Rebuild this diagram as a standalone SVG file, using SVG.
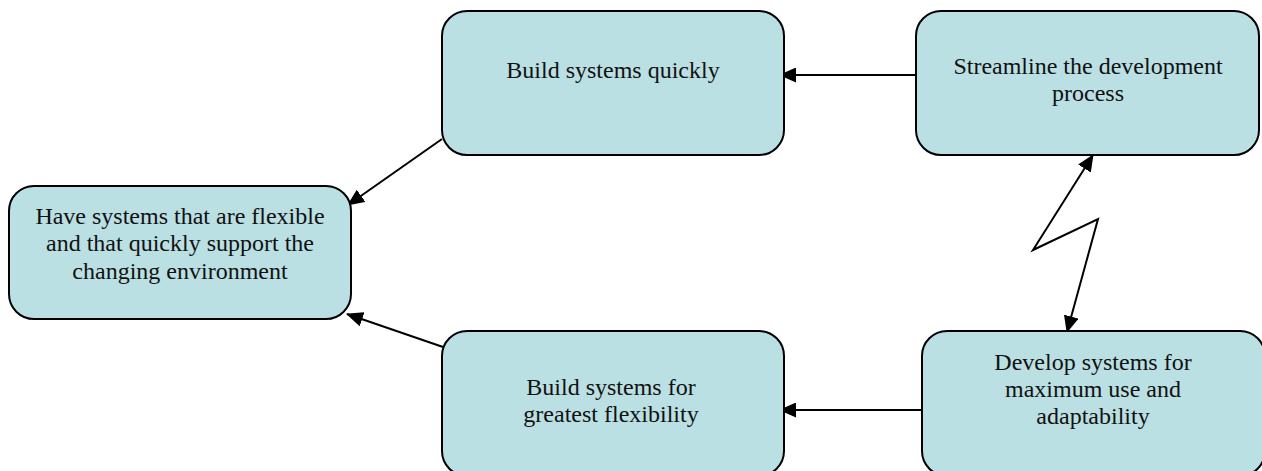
<svg xmlns="http://www.w3.org/2000/svg" width="1262" height="471" viewBox="0 0 1262 471">
  <style>
    .box { fill: #bae0e3; stroke: #000; stroke-width: 2; }
    .lbl { font-family: "Liberation Serif", "Times New Roman", serif; font-size: 24px; fill: #111; text-anchor: middle; }
    .edge { fill: none; stroke: #000; stroke-width: 2; }
  </style>
  <defs>
    <marker id="arrow" markerUnits="userSpaceOnUse" markerWidth="17" markerHeight="15" refX="16" refY="7.5" orient="auto-start-reverse" viewBox="0 0 17 15">
      <path d="M0,0 L17,7.5 L0,15 Z" fill="#000"/>
    </marker>
  </defs>

  <g id="connectors">
    <line class="edge" x1="916" y1="75" x2="780" y2="75" marker-end="url(#arrow)"/>
    <line class="edge" x1="442" y1="139" x2="348" y2="205" marker-end="url(#arrow)"/>
    <line class="edge" x1="443" y1="347" x2="347" y2="314" marker-end="url(#arrow)"/>
    <line class="edge" x1="922" y1="410" x2="780" y2="410" marker-end="url(#arrow)"/>
    <polyline class="edge" points="1093,155 1033,250 1098,219 1067,332" marker-start="url(#arrow)" marker-end="url(#arrow)"/>
  </g>

  <g id="node-flexible">
    <rect class="box" x="9" y="186" width="342" height="133" rx="25" ry="25"/>
    <text class="lbl" x="180" y="224">Have systems that are flexible</text>
    <text class="lbl" x="180" y="251">and that quickly support the</text>
    <text class="lbl" x="180" y="279">changing environment</text>
  </g>

  <g id="node-build-quickly">
    <rect class="box" x="442" y="11" width="342" height="144" rx="25" ry="25"/>
    <text class="lbl" x="613" y="78">Build systems quickly</text>
  </g>

  <g id="node-streamline">
    <rect class="box" x="916" y="11" width="343" height="144" rx="25" ry="25"/>
    <text class="lbl" x="1088" y="74">Streamline the development</text>
    <text class="lbl" x="1088" y="101">process</text>
  </g>

  <g id="node-build-flexibility">
    <rect class="box" x="442" y="331" width="342" height="145" rx="25" ry="25"/>
    <text class="lbl" x="611" y="395">Build systems for</text>
    <text class="lbl" x="611" y="422">greatest flexibility</text>
  </g>

  <g id="node-develop">
    <rect class="box" x="922" y="331" width="343" height="145" rx="25" ry="25"/>
    <text class="lbl" x="1093" y="370">Develop systems for</text>
    <text class="lbl" x="1093" y="397">maximum use and</text>
    <text class="lbl" x="1093" y="424">adaptability</text>
  </g>
</svg>
